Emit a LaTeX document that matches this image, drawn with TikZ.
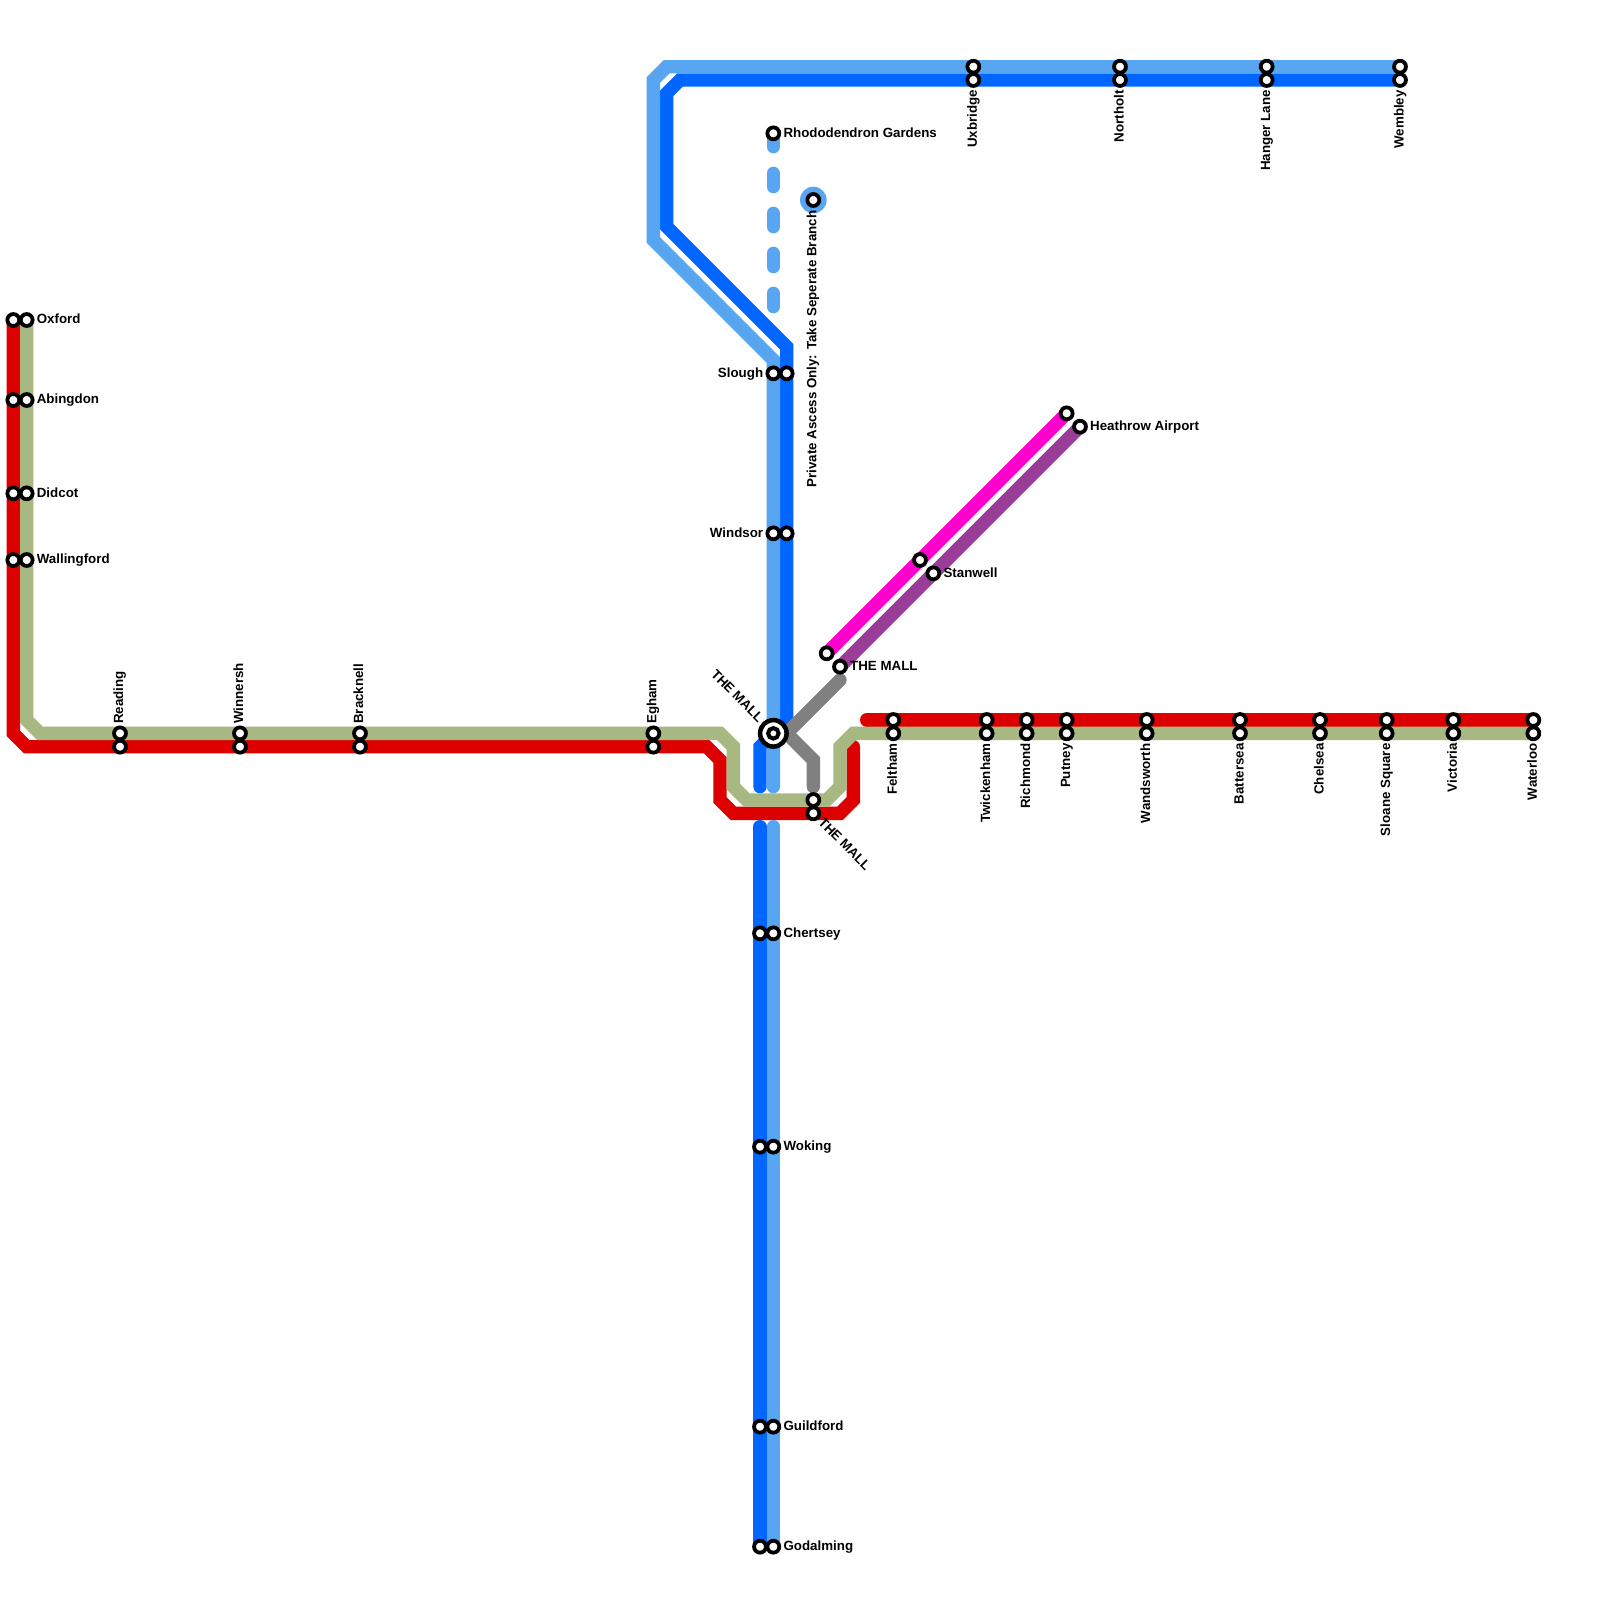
\documentclass[tikz,border=0pt]{standalone}
\usepackage{fontspec}
\setmainfont{Liberation Sans}
\definecolor{cred}{HTML}{DD0000}
\definecolor{cgreen}{HTML}{A8B882}
\definecolor{cdark}{HTML}{0066FF}
\definecolor{clight}{HTML}{58A6F2}
\definecolor{cgrey}{HTML}{808080}
\definecolor{cmag}{HTML}{FF00CC}
\definecolor{cpur}{HTML}{993D99}
\tikzset{
  route/.style={line width=13.333pt,line cap=round,line join=miter,miter limit=10},
  stn/.style={circle,draw=black,fill=white,line width=3.8pt,minimum size=11.9pt,inner sep=0pt},
  lab/.style={font=\fontsize{13.33}{15}\selectfont\bfseries,inner sep=0pt,text=black},
  labr/.style={lab,anchor=base west},
  labl/.style={lab,anchor=base east},
  labu/.style={lab,anchor=base west,rotate=90},
  labd/.style={lab,anchor=base east,rotate=90},
}
% station + label helpers
\newcommand\stR[4]{\node[stn] (#1) at (#2,#3) {};\node[labr] (#1-t) at ([shift={(10pt,-3.7pt)}]#1.center) {#4};}
\newcommand\stL[4]{\node[stn] (#1) at (#2,#3) {};\node[labl] (#1-t) at ([shift={(-10pt,-3.7pt)}]#1.center) {#4};}
\newcommand\stU[4]{\node[stn] (#1) at (#2,#3) {};\node[labu] (#1-t) at ([shift={(3pt,9.5pt)}]#1.center) {#4};}
\newcommand\stD[4]{\node[stn] (#1) at (#2,#3) {};\node[labd] (#1-t) at ([shift={(3.5pt,-10pt)}]#1.center) {#4};}
\newcommand\stP[3]{\node[stn] (#1) at (#2,#3) {};}
\begin{document}
\begin{tikzpicture}[x=13.3333pt,y=-13.3333pt]
\fill[white] (0,0) rectangle (120,120);
\useasboundingbox (0,0) rectangle (120,120);
% routes
\draw[route,cred] (1,24) -- (1,55) -- (2,56) -- (53,56) -- (54,57) -- (54,60) -- (55,61) -- (63,61) -- (64,60) -- (64,56);
\draw[route,cred] (65,54) -- (115,54);
\draw[route,cgreen] (2,24) -- (2,54) -- (3,55) -- (54,55) -- (55,56) -- (55,59) -- (56,60) -- (62,60) -- (63,59) -- (63,56) -- (64,55) -- (115,55);
\draw[route,cdark] (105,6) -- (51,6) -- (50,7) -- (50,17) -- (59,26) -- (59,54) -- (58,55) -- (57,56) -- (57,59);
\draw[route,cdark] (57,62) -- (57,116);
\draw[route,clight] (105,5) -- (50,5) -- (49,6) -- (49,18) -- (58,27) -- (58,59);
\draw[route,clight] (58,62) -- (58,116);
\draw[route,clight,dash pattern=on 13.333pt off 26.667pt] (58,10) -- (58,23);
\fill[clight] (61,15) circle[radius=13.333pt];
\draw[route,cgrey] (63,51) -- (59,55) -- (61,57) -- (61,59);
\draw[route,cmag] (62,49) -- (80,31);
\draw[route,cpur] (63,50) -- (81,32);
% left branch
\stP{oxa}{1}{24}\stR{oxb}{2}{24}{Oxford}
\stP{aba}{1}{30}\stR{abb}{2}{30}{Abingdon}
\stP{dia}{1}{37}\stR{dib}{2}{37}{Didcot}
\stP{waa}{1}{42}\stR{wab}{2}{42}{Wallingford}
\stP{rea}{9}{56}\stU{reb}{9}{55}{Reading}
\stP{wia}{18}{56}\stU{wib}{18}{55}{Winnersh}
\stP{bra}{27}{56}\stU{brb}{27}{55}{Bracknell}
\stP{ega}{49}{56}\stU{egb}{49}{55}{Egham}
% right branch
\stP{fea}{67}{54}\stD{feb}{67}{55}{Feltham}
\stP{twa}{74}{54}\stD{twb}{74}{55}{Twickenham}
\stP{ria}{77}{54}\stD{rib}{77}{55}{Richmond}
\stP{pua}{80}{54}\stD{pub}{80}{55}{Putney}
\stP{wna}{86}{54}\stD{wnb}{86}{55}{Wandsworth}
\stP{baa}{93}{54}\stD{bab}{93}{55}{Battersea}
\stP{cha}{99}{54}\stD{chb}{99}{55}{Chelsea}
\stP{sla}{104}{54}\stD{slb}{104}{55}{Sloane Square}
\stP{via}{109}{54}\stD{vib}{109}{55}{Victoria}
\stP{wta}{115}{54}\stD{wtb}{115}{55}{Waterloo}
% top
\stP{uxa}{73}{5}\stD{uxb}{73}{6}{Uxbridge}
\stP{noa}{84}{5}\stD{nob}{84}{6}{Northolt}
\stP{haa}{95}{5}\stD{hab}{95}{6}{Hanger Lane}
\stP{wea}{105}{5}\stD{web}{105}{6}{Wembley}
% north-south
\stR{rho}{58}{10}{Rhododendron Gardens}
\stL{sla2}{58}{28}{Slough}\stP{slb2}{59}{28}
\stL{wia2}{58}{40}{Windsor}\stP{wib2}{59}{40}
\stP{cea}{57}{70}\stR{ceb}{58}{70}{Chertsey}
\stP{woa}{57}{86}\stR{wob}{58}{86}{Woking}
\stP{gua}{57}{107}\stR{gub}{58}{107}{Guildford}
\stP{goa}{57}{116}\stR{gob}{58}{116}{Godalming}
% private
\stP{pri}{61}{15}
\node[lab,anchor=base east,rotate=90] (pri-t) at ([shift={(3pt,-10.5pt)}]pri.center) {Private Ascess Only: Take Seperate Branch};
% airport branch
\stP{hea}{80}{31}\stR{heb}{81}{32}{Heathrow Airport}
\stP{sta}{69}{42}\stR{stb}{70}{43}{Stanwell}
\stP{maa}{62}{49}\stR{mab}{63}{50}{THE MALL}
% the mall south
\stP{msa}{61}{60}\stP{msb}{61}{61}
\node[lab,rotate=-45] (msb-t) at (63.35,63.3) {THE MALL};
% hub
\node[circle,draw=black,fill=white,line width=4.5pt,minimum size=26.5pt,inner sep=0pt] (hub) at (58,55) {};
\node[circle,draw=black,fill=white,line width=4pt,minimum size=10.5pt,inner sep=0pt] (hubc) at (hub.center) {};
\node[lab,rotate=-45] (hub-t) at (55.3,52.2) {THE MALL};
\end{tikzpicture}
\end{document}
